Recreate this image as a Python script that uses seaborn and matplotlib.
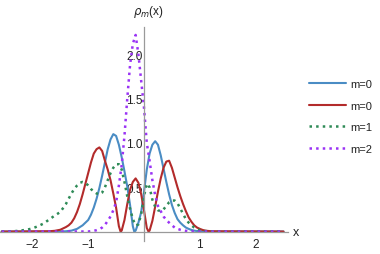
import numpy as np
import pandas as pd
import matplotlib
matplotlib.use("Agg")
import matplotlib.pyplot as plt
from matplotlib.ticker import MultipleLocator, FixedLocator
from matplotlib.lines import Line2D
import seaborn as sns

# ---- data ----
x_blue = [-2.55, -1.5, -1.4, -1.3, -1.2, -1.1, -1.0, -0.95, -0.9, -0.85, -0.8, -0.75, -0.7, -0.65,
          -0.6, -0.55, -0.5, -0.45, -0.4, -0.35, -0.3, -0.25, -0.2, -0.175, -0.15, -0.1, -0.05, 0.0,
          0.05, 0.1, 0.15, 0.2, 0.25, 0.3, 0.35, 0.4, 0.45, 0.5, 0.55, 0.6, 0.65, 0.7, 0.75, 0.8,
          0.85, 0.9, 0.95, 1.0, 1.1, 1.2, 2.5]
y_blue = [0, 0, 0.003, 0.01, 0.03, 0.07, 0.13, 0.19, 0.27, 0.37, 0.49, 0.63, 0.78, 0.93,
          1.04, 1.10, 1.08, 0.98, 0.84, 0.68, 0.51, 0.30, 0.06, 0.0, 0.01, 0.1, 0.22, 0.45,
          0.7, 0.88, 0.98, 1.02, 0.98, 0.86, 0.71, 0.56, 0.42, 0.3, 0.21, 0.14, 0.1, 0.07, 0.045, 0.03,
          0.018, 0.01, 0.005, 0.003, 0.001, 0, 0]

x_red = [-2.55, -1.7, -1.6, -1.5, -1.45, -1.4, -1.35, -1.3, -1.25, -1.2, -1.15, -1.1, -1.05, -1.0,
         -0.95, -0.9, -0.85, -0.8, -0.75, -0.7, -0.65, -0.6, -0.55, -0.5, -0.45, -0.42, -0.4, -0.35,
         -0.3, -0.25, -0.2, -0.15, -0.1, -0.05, 0.0, 0.05, 0.08, 0.1, 0.15, 0.2, 0.25, 0.3, 0.35, 0.4,
         0.45, 0.5, 0.55, 0.6, 0.65, 0.7, 0.75, 0.8, 0.85, 0.9, 0.95, 1.0, 1.05, 1.1, 1.2, 2.5]
y_red = [0, 0.003, 0.008, 0.02, 0.035, 0.05, 0.07, 0.1, 0.15, 0.22, 0.31, 0.42, 0.54, 0.66,
         0.78, 0.88, 0.93, 0.95, 0.91, 0.8, 0.7, 0.58, 0.43, 0.27, 0.06, 0.0, 0.01, 0.13,
         0.31, 0.47, 0.56, 0.6, 0.55, 0.42, 0.24, 0.04, 0.0, 0.01, 0.12, 0.28, 0.45, 0.6, 0.72, 0.79,
         0.8, 0.72, 0.61, 0.5, 0.4, 0.31, 0.23, 0.16, 0.11, 0.07, 0.045, 0.03, 0.018, 0.01, 0.003, 0]

x_green = [-2.55, -2.4, -2.3, -2.2, -2.1, -2.0, -1.9, -1.8, -1.7, -1.6, -1.5, -1.4, -1.35, -1.3,
           -1.25, -1.2, -1.15, -1.1, -1.05, -1.0, -0.95, -0.9, -0.85, -0.8, -0.75, -0.7, -0.65, -0.6,
           -0.55, -0.5, -0.45, -0.4, -0.35, -0.3, -0.25, -0.2, -0.15, -0.1, -0.05, 0.0, 0.05, 0.1,
           0.15, 0.2, 0.25, 0.3, 0.35, 0.4, 0.45, 0.5, 0.55, 0.6, 0.65, 0.7, 0.75, 0.8, 0.85, 0.9,
           0.95, 1.0, 1.1, 1.2, 1.4, 2.5]
y_green = [0, 0.002, 0.005, 0.012, 0.02, 0.035, 0.06, 0.09, 0.135, 0.18, 0.22, 0.31, 0.37, 0.43,
           0.48, 0.52, 0.55, 0.56, 0.55, 0.52, 0.48, 0.45, 0.43, 0.42, 0.44, 0.5, 0.58, 0.66,
           0.72, 0.76, 0.76, 0.7, 0.56, 0.4, 0.26, 0.14, 0.07, 0.08, 0.2, 0.4, 0.54, 0.5,
           0.36, 0.28, 0.24, 0.23, 0.25, 0.29, 0.33, 0.35, 0.35, 0.32, 0.26, 0.2, 0.14, 0.1, 0.07, 0.045,
           0.025, 0.015, 0.005, 0.002, 0, 0]

x_purple = [-2.55, -1.0, -0.95, -0.9, -0.85, -0.8, -0.75, -0.7, -0.65, -0.6, -0.55, -0.5, -0.45,
            -0.4, -0.35, -0.3, -0.25, -0.2, -0.15, -0.1, -0.05, 0.0, 0.05, 0.1, 0.15, 0.2, 0.25, 0.3,
            0.35, 0.4, 0.45, 0.5, 0.55, 0.6, 0.65, 0.7, 0.8, 0.9, 2.5]
y_purple = [0, 0, 0.004, 0.008, 0.015, 0.025, 0.045, 0.075, 0.12, 0.17, 0.24, 0.33, 0.52,
            0.75, 1.08, 1.5, 1.88, 2.12, 2.22, 2.0, 1.7, 1.4, 1.0, 0.8, 0.58, 0.41, 0.29, 0.23,
            0.17, 0.13, 0.1, 0.07, 0.045, 0.03, 0.02, 0.012, 0.004, 0, 0]

labels = ["m=0", "m=0", "m=1", "m=2"]
x_ticks = [-2, -1, 1, 2]
y_ticks = [0.5, 1.0, 1.5, 2.0]

# ---- style ----
sns.set_style("white")
plt.rcParams['font.family'] = ['Liberation Sans', 'DejaVu Sans']

colors = ["#4a8cc4", "#b32b2b", "#2e8b57", "#9a33f5"]
styles = ["-", "-", ":", ":"]
widths = [1.5, 1.5, 1.8, 1.8]

fig = plt.figure(figsize=(3.8, 2.55), dpi=100)
ax = fig.add_axes([0.0, 1 - 242 / 255, 288 / 380, (242 - 28) / 255])

series = [(x_blue, y_blue), (x_red, y_red), (x_green, y_green), (x_purple, y_purple)]
for (xs, ys), c, ls, lw in zip(series, colors, styles, widths):
    sns.lineplot(x=xs, y=ys, ax=ax, color=c, linestyle=ls, linewidth=lw,
                 sort=False, estimator=None)

ax.set_xlim(-2.58, 2.58)
ax.set_ylim(-0.107, 2.31)

for s in ["top", "right"]:
    ax.spines[s].set_visible(False)
ax.spines["left"].set_position(("data", 0))
ax.spines["bottom"].set_position(("data", 0))
for s in ["left", "bottom"]:
    ax.spines[s].set_color("#9a9a9a")
    ax.spines[s].set_linewidth(0.9)

ax.xaxis.set_major_locator(FixedLocator(x_ticks))
ax.yaxis.set_major_locator(FixedLocator(y_ticks))
ax.xaxis.set_minor_locator(MultipleLocator(0.2))
ax.yaxis.set_minor_locator(MultipleLocator(0.1))
ax.set_xticklabels([str(t).replace("-", "\u2212") for t in x_ticks])
ax.set_yticklabels([f"{t:.1f}" for t in y_ticks])
ax.tick_params(axis="both", which="major", direction="in", length=4, width=0.8,
               color="#9a9a9a", labelsize=8.5, labelcolor="#222222")
ax.tick_params(axis="both", which="minor", direction="in", length=2, width=0.6,
               color="#9a9a9a")
ax.tick_params(axis="x", which="major", pad=5)
ax.tick_params(axis="y", which="major", pad=1)
ax.set_xlabel("")
ax.set_ylabel("")
ax.grid(False)
ax.patch.set_alpha(0)

fig.text(148 / 380, 1 - 12 / 255, r"$\rho_m$(x)", ha="center", va="center",
         fontsize=8.5, color="#222222")
fig.text(293 / 380, 1 - 233 / 255, "x", ha="left", va="center", fontsize=9, color="#222222")

handles = [Line2D([0], [0], color=c, linestyle=ls, linewidth=lw)
           for c, ls, lw in zip(colors, styles, widths)]
leg = fig.legend(handles, labels, loc="upper left", bbox_to_anchor=(309 / 380, 1 - 80 / 255),
                 frameon=False, fontsize=8, handlelength=3.3, handletextpad=0.45,
                 labelspacing=1.05, borderpad=0, borderaxespad=0)
for t in leg.get_texts():
    t.set_color("#222222")

fig.savefig("out.png", dpi=100)
